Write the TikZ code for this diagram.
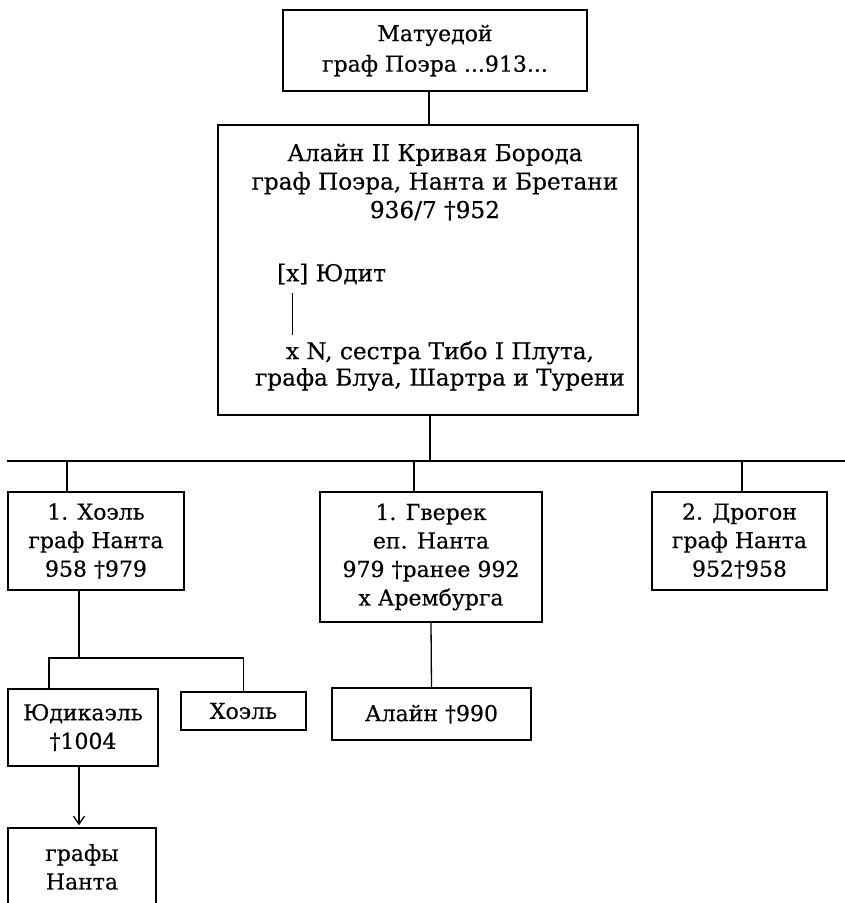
\documentclass[tikz,border=0pt]{standalone}
\usepackage{fontspec}
\setmainfont{DejaVu Serif}
\newfontfamily\dgface{DejaVu Serif}[FakeBold=0.4]
\usetikzlibrary{arrows.meta}
\newcommand\dgfont{\dgface\fontsize{22}{28.5}\selectfont}
\newcommand\dgbigfont{\dgface\fontsize{23.2}{28.5}\selectfont}
\begin{document}
\begin{tikzpicture}[x=1pt,y=-1pt,
  box/.style={draw, line width=1.5pt, inner sep=0pt, align=center, font=\dgfont},
  txt/.style={inner sep=0pt, align=center, font=\dgbigfont},
  conn/.style={line width=1.3pt}]
\fill[white] (0,0) rectangle (845,903);
\useasboundingbox (0,0) rectangle (845,903);
% boxes
\node[box, minimum width=304pt, minimum height=81pt] (top) at (435,50.5) {Матуедой\\[2pt]граф Поэра ...913...};
\node[box, minimum width=420pt, minimum height=290pt] (big) at (428,270) {};
\node[txt] (bigT) at (435,182) {Алайн II Кривая Борода\\граф Поэра, Нанта и Бретани\\936/7 †952};
\node[txt, anchor=west] (judit) at (277,274) {[x] Юдит};
\node[txt] (wife) at (440,366) {x N, сестра Тибо I Плута,\\[-2pt]графа Блуа, Шартра и Турени};
\coordinate (mA) at (292,293);
\coordinate (mB) at (292,335);
\draw[line width=1pt] (mA) -- (mB);
\coordinate (busL) at (7,461);
\coordinate (busR) at (845,461);
\node[box, minimum width=176pt, minimum height=98pt] (hoel) at (96,541) {1. Хоэль\\граф Нанта\\958 †979};
\node[box, minimum width=222pt, minimum height=130pt] (gverek) at (431,557) {1. Гверек\\еп. Нанта\\979 †ранее 992\\x Арембурга};
\node[box, minimum width=175pt, minimum height=98pt] (drogon) at (739.5,541) {2. Дрогон\\граф Нанта\\952†958};
\node[box, minimum width=150pt, minimum height=77pt] (jud) at (83,727.5) {Юдикаэль\\†1004};
\node[box, minimum width=125pt, minimum height=38pt] (hoel2) at (243.5,711) {Хоэль};
\node[box, minimum width=199pt, minimum height=52pt] (alain2) at (431.5,714) {Алайн †990};
\node[box, minimum width=148pt, minimum height=78pt] (grafy) at (82,867) {графы\\Нанта};
\coordinate (junc) at (79,658);
% connectors
\draw[conn] ([xshift=-6pt]top.south) -- ([xshift=-6pt]top.south |- big.north);
\draw[conn] ([xshift=2pt]big.south) -- ([xshift=2pt]big.south |- busL);
\draw[conn] (busL) -- (busR);
\draw[conn] ([xshift=-29pt]hoel.north) -- ([xshift=-29pt]hoel.north |- busL);
\draw[conn] ([xshift=-17pt]gverek.north) -- ([xshift=-17pt]gverek.north |- busL);
\draw[conn] ([xshift=2.5pt]drogon.north) -- ([xshift=2.5pt]drogon.north |- busL);
\draw[conn] ([xshift=-17pt]hoel.south) -- (junc);
\draw[conn] ([xshift=-34pt]jud.north) |- (junc -| hoel2.north) -- (hoel2.north);
\draw[conn] (gverek.south) -- (alain2.north);
\draw[conn, -{Straight Barb[length=8pt,width=11pt]}, shorten >=2pt] ([xshift=-4pt]jud.south) -- ([xshift=-4pt]jud.south |- grafy.north);
\end{tikzpicture}
\end{document}
